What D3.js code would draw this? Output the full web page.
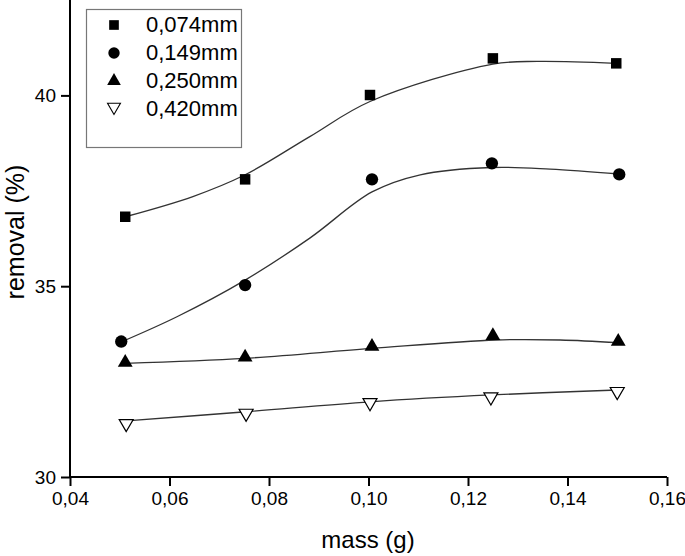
<!DOCTYPE html>
<html>
<head>
<meta charset="utf-8">
<script src="https://cdn.jsdelivr.net/npm/d3@7"></script>
<style>
  html, body { margin: 0; padding: 0; background: #fff; }
  svg { display: block; font-family: "Liberation Sans", Arial, sans-serif; }
</style>
</head>
<body>
<svg id="chart" width="685" height="556"></svg>
<script>
// ---- data ----
const seriesNames = ["0,074mm", "0,149mm", "0,250mm", "0,420mm"];
const xTicks = [0.04, 0.06, 0.08, 0.10, 0.12, 0.14, 0.16];
const yTicks = [30, 35, 40];

// measured points
const massSq  = [0.0511, 0.0752, 0.1003, 0.1250, 0.1498];
const remSq   = [36.82, 37.80, 40.01, 40.97, 40.84];
const massCi  = [0.0503, 0.0752, 0.1007, 0.1248, 0.1504];
const remCi   = [33.55, 35.03, 37.80, 38.22, 37.93];
const massTu  = [0.0511, 0.0752, 0.1007, 0.1250, 0.1502];
const remTu   = [33.00, 33.14, 33.42, 33.70, 33.55];
const massTd  = [0.0513, 0.0754, 0.1003, 0.1246, 0.1500];
const remTd   = [31.40, 31.67, 31.95, 32.10, 32.24];

// fitted curves
const fitSqX = [0.0511, 0.0647, 0.0752, 0.0882, 0.1003, 0.1250, 0.1339, 0.1498];
const fitSqY = [36.82, 37.35, 37.92, 38.92, 39.84, 40.82, 40.89, 40.84];
const fitCiX = [0.0503, 0.0615, 0.0752, 0.0882, 0.1007, 0.1104, 0.1248, 0.1365, 0.1504];
const fitCiY = [33.54, 34.20, 35.16, 36.26, 37.47, 37.92, 38.11, 38.07, 37.94];
const fitTuX = [0.0511, 0.0752, 0.1007, 0.1256, 0.1385, 0.1502];
const fitTuY = [32.98, 33.11, 33.37, 33.59, 33.59, 33.52];
const fitTdX = [0.0513, 0.0754, 0.1003, 0.1246, 0.1500];
const fitTdY = [31.47, 31.71, 31.97, 32.15, 32.28];

// ---- layout ----
const svg = d3.select("#chart");
const mLeft = 70, mRight = 667, mTop = 0, mBottom = 477;
const x = d3.scaleLinear().domain([0.04, 0.16]).range([mLeft, mRight]);
const y = d3.scaleLinear().domain([30, 42.5]).range([mBottom, mTop]);

const loc = d3.formatLocale({decimal: ",", thousands: ".", grouping: [3], currency: ["", ""]});
const fx = loc.format(".2f");

// axes
const xAxis = svg.append("g").attr("transform", `translate(0,${mBottom})`)
  .call(d3.axisBottom(x).tickValues(xTicks).tickFormat(fx).tickSize(9).tickPadding(6).tickSizeOuter(0));
const yAxis = svg.append("g").attr("transform", `translate(${mLeft},0)`)
  .call(d3.axisLeft(y).tickValues(yTicks).tickFormat(d3.format("d")).tickSize(9).tickPadding(5).tickSizeOuter(0));
[xAxis, yAxis].forEach(a => {
  a.select(".domain").attr("stroke", "#000").attr("stroke-width", 2);
  a.selectAll(".tick line").attr("stroke", "#000").attr("stroke-width", 2);
  a.selectAll(".tick text").attr("fill", "#000").style("font-size", "19px")
    .style("font-family", "'Liberation Sans', Arial, sans-serif");
});
yAxis.select(".domain").attr("d", `M0,${mBottom + 1}V${mTop}`);
xAxis.select(".domain").attr("d", `M${mLeft - 1},0H${mRight}`);

// axis titles
svg.append("text").attr("x", 368).attr("y", 548).attr("text-anchor", "middle")
  .style("font-size", "24px").attr("fill", "#000").text("mass (g)");
svg.append("text").attr("transform", `translate(24,232) rotate(-90)`).attr("text-anchor", "middle")
  .style("font-size", "25px").attr("fill", "#000").text("removal (%)");

// curves
const line = d3.line().x(d => x(d[0])).y(d => y(d[1])).curve(d3.curveCatmullRom.alpha(0.5));
const fits = [[fitSqX, fitSqY], [fitCiX, fitCiY], [fitTuX, fitTuY], [fitTdX, fitTdY]];
fits.forEach(([xs, ys]) => {
  svg.append("path").datum(xs.map((v, i) => [v, ys[i]]))
    .attr("d", line).attr("fill", "none").attr("stroke", "#333").attr("stroke-width", 1.3);
});

// markers
const sym = [
  {type: d3.symbolSquare, size: 110, fill: "#000"},
  {type: d3.symbolCircle, size: 120, fill: "#000"},
  {type: d3.symbolTriangle, size: 95, fill: "#000"},
  {type: d3.symbolTriangle, size: 85, fill: "#fff", rot: 180}
];
const pts = [[massSq, remSq], [massCi, remCi], [massTu, remTu], [massTd, remTd]];
pts.forEach(([xs, ys], k) => {
  const s = sym[k];
  svg.append("g").selectAll("path").data(xs.map((v, i) => [v, ys[i]])).join("path")
    .attr("d", d3.symbol().type(s.type).size(s.size))
    .attr("transform", d => `translate(${x(d[0])},${y(d[1])})${s.rot ? " rotate(180)" : ""}`)
    .attr("fill", s.fill).attr("stroke", "#000").attr("stroke-width", s.fill === "#fff" ? 1.2 : 0);
});

// legend
const lg = svg.append("g");
lg.append("rect").attr("x", 86.5).attr("y", 9.5).attr("width", 155).attr("height", 138)
  .attr("fill", "#fff").attr("stroke", "#777").attr("stroke-width", 1.2);
seriesNames.forEach((name, k) => {
  const s = sym[k];
  const cy = 24 + k * 28;
  lg.append("path").attr("d", d3.symbol().type(s.type).size(s.size * 0.85))
    .attr("transform", `translate(114,${cy + (s.rot ? -1 : 1)})${s.rot ? " rotate(180)" : ""}`)
    .attr("fill", s.fill).attr("stroke", "#000").attr("stroke-width", s.fill === "#fff" ? 1.1 : 0);
  lg.append("text").attr("x", 146).attr("y", cy + 8).style("font-size", "22px")
    .attr("fill", "#000").text(name);
});
</script>
</body>
</html>
